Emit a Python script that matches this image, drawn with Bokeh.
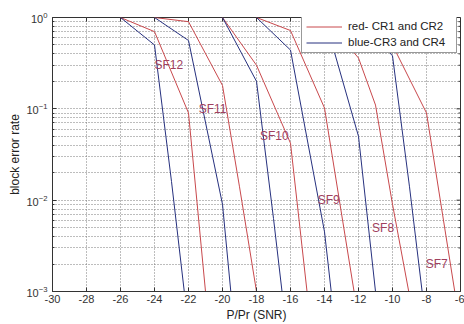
import math
from bokeh.plotting import figure
from bokeh.models import FixedTicker, Legend, LegendItem, ColumnDataSource
from bokeh.core.properties import value
from bokeh.embed import file_html
from bokeh.resources import INLINE

# Block error rate versus SNR for spreading factors SF7..SF12
# red: coding rates CR1/CR2, blue: coding rates CR3/CR4
snr_red_sf12 = [-26, -24, -22, -21]
bler_red_sf12 = [1.0, 0.7, 0.09, 0.001]
snr_blue_sf12 = [-26, -24, -23, -22]
bler_blue_sf12 = [1.0, 0.5, 0.016, 0.0004]

snr_red_sf11 = [-24, -22, -20, -19, -18]
bler_red_sf11 = [1.0, 0.9, 0.18, 0.014, 0.001]
snr_blue_sf11 = [-24, -22, -20, -19]
bler_blue_sf11 = [1.0, 0.56, 0.009, 0.0001]

snr_red_sf10 = [-20, -18, -16, -15]
bler_red_sf10 = [1.0, 0.3, 0.042, 0.0009]
snr_blue_sf10 = [-20, -18, -17, -16]
bler_blue_sf10 = [1.0, 0.2, 0.0063, 0.00016]

snr_red_sf9 = [-18, -16, -14, -12]
bler_red_sf9 = [1.0, 0.72, 0.102, 0.0005]
snr_blue_sf9 = [-18, -16, -14, -13]
bler_blue_sf9 = [1.0, 0.44, 0.0045, 0.0001]

snr_red_sf8 = [-14, -12, -11, -10, -9]
bler_red_sf8 = [1.0, 0.36, 0.11, 0.009, 0.0009]
snr_blue_sf8 = [-14, -12, -11, -10]
bler_blue_sf8 = [1.0, 0.05, 0.001, 0.00003]

snr_red_sf7 = [-12, -10, -8, -6]
bler_red_sf7 = [1.0, 0.5, 0.09, 0.0004]
snr_blue_sf7 = [-12, -10, -9, -8]
bler_blue_sf7 = [1.0, 0.38, 0.014, 0.0004]

sf_names = ["SF12", "SF11", "SF10", "SF9", "SF8", "SF7"]
sf_label_snr = [-24.0, -21.4, -17.8, -14.4, -11.2, -8.05]
sf_label_bler = [0.3, 0.1, 0.05, 0.01, 0.005, 0.002]

x_ticks = list(range(-30, -5, 2))
x_tick_labels = [str(t) for t in x_ticks]
y_ticks = [1e-3, 1e-2, 1e-1, 1.0]
y_minor = [m * 10.0 ** e for e in (-3, -2, -1) for m in range(2, 10)]

RED = "#c8484c"
BLUE = "#26307e"
FONT = "Liberation Sans"
GRID = "#7a7a7a"
AXIS = "#333333"

p = figure(width=464, height=324, y_axis_type="log",
           x_range=(-30, -6), y_range=(1e-3, 1.0),
           output_backend="svg", toolbar_location=None,
           min_border_left=52, min_border_right=4,
           min_border_top=17, min_border_bottom=31)
p.outline_line_color = AXIS
p.outline_line_width = 1
p.background_fill_color = "white"
p.border_fill_color = "white"

xt = FixedTicker(ticks=x_ticks)
yt = FixedTicker(ticks=y_ticks, minor_ticks=y_minor)
p.xaxis.ticker = xt
p.yaxis.ticker = yt
p.xaxis.major_label_overrides = dict(zip(x_ticks, x_tick_labels))

for ax in (p.xaxis[0], p.yaxis[0]):
    ax.axis_line_color = AXIS
    ax.major_tick_line_color = AXIS
    ax.minor_tick_line_color = AXIS
    ax.major_tick_in = 4
    ax.major_tick_out = 0
    ax.minor_tick_in = 2
    ax.minor_tick_out = 0
    ax.major_label_text_font = FONT
    ax.major_label_text_font_size = "11px"
    ax.major_label_text_color = "#333333"
    ax.axis_label_text_font = FONT
    ax.axis_label_text_font_size = "12px"
    ax.axis_label_text_font_style = "normal"
    ax.axis_label_text_color = "#222222"

p.xaxis.axis_label = "P/Pr (SNR)"
p.yaxis.axis_label = "block error rate"
p.xaxis.major_label_standoff = 3
p.xaxis.axis_label_standoff = 2
p.yaxis.major_label_standoff = 5
p.yaxis.axis_label_standoff = 1

# mirrored inward tick marks along the top and right edges of the box
p.ray(x=x_ticks, y=[1.0] * len(x_ticks), length=4, length_units="screen",
      angle=-math.pi / 2, line_color=AXIS, line_width=1)
p.ray(x=[-6] * len(y_ticks), y=y_ticks, length=4, length_units="screen",
      angle=math.pi, line_color=AXIS, line_width=1)
p.ray(x=[-6] * len(y_minor), y=y_minor, length=2, length_units="screen",
      angle=math.pi, line_color=AXIS, line_width=1)

p.xgrid.grid_line_color = GRID
p.xgrid.grid_line_dash = "1 2"
p.ygrid.grid_line_color = GRID
p.ygrid.grid_line_dash = "1 2"
p.ygrid.minor_grid_line_color = GRID
p.ygrid.minor_grid_line_dash = "1 2"

red_curves = [(snr_red_sf12, bler_red_sf12), (snr_red_sf11, bler_red_sf11),
              (snr_red_sf10, bler_red_sf10), (snr_red_sf9, bler_red_sf9),
              (snr_red_sf8, bler_red_sf8), (snr_red_sf7, bler_red_sf7)]
blue_curves = [(snr_blue_sf12, bler_blue_sf12), (snr_blue_sf11, bler_blue_sf11),
               (snr_blue_sf10, bler_blue_sf10), (snr_blue_sf9, bler_blue_sf9),
               (snr_blue_sf8, bler_blue_sf8), (snr_blue_sf7, bler_blue_sf7)]

red_renderers = [p.line(x, y, line_color=RED, line_width=1) for x, y in red_curves]
blue_renderers = [p.line(x, y, line_color=BLUE, line_width=1) for x, y in blue_curves]

labels = ColumnDataSource(data=dict(x=sf_label_snr, y=sf_label_bler, t=sf_names))
p.text(x="x", y="y", text="t", source=labels, text_font=value(FONT),
       text_font_size="12px", text_color="#a0405e", text_align="left",
       text_baseline="middle")

legend = Legend(items=[
    LegendItem(label="red- CR1 and CR2", renderers=[red_renderers[0]]),
    LegendItem(label="blue-CR3 and CR4", renderers=[blue_renderers[0]]),
], location=(249, 238))
legend.label_text_font = FONT
legend.label_text_font_size = "11.5px"
legend.label_text_color = "#222222"
legend.glyph_width = 36
legend.glyph_height = 11
legend.label_height = 11
legend.label_width = 104
legend.label_standoff = 6
legend.spacing = 4
legend.padding = 4
legend.margin = 0
legend.border_line_color = AXIS
legend.border_line_width = 1
legend.background_fill_color = "white"
legend.background_fill_alpha = 1.0
p.add_layout(legend)

open("out.html", "w").write(file_html(p, INLINE))
